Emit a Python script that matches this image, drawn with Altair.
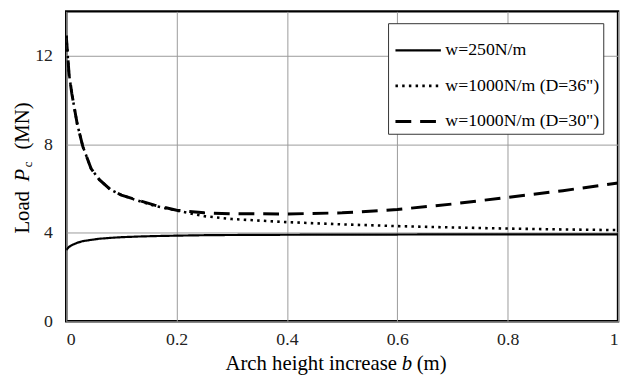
import altair as alt
import pandas as pd

# ---- data ----
b_vals = [0, 0.005, 0.01, 0.02, 0.03, 0.045, 0.06, 0.08, 0.1, 0.13, 0.16, 0.2,
          0.25, 0.3, 0.4, 0.5, 0.6, 0.7, 0.8, 0.9, 1.0]
w250 = [3.22, 3.36, 3.44, 3.55, 3.62, 3.68, 3.73, 3.77, 3.8, 3.83, 3.85, 3.87,
        3.89, 3.9, 3.91, 3.92, 3.92, 3.93, 3.93, 3.93, 3.93]
w1000_d36 = [12.9, 11.2, 10.3, 8.9, 7.9, 6.9, 6.4, 5.95, 5.7, 5.45, 5.22, 5.0,
             4.75, 4.62, 4.48, 4.38, 4.3, 4.24, 4.19, 4.15, 4.12]
w1000_d30 = [12.9, 11.2, 10.3, 8.9, 7.9, 6.9, 6.4, 5.95, 5.7, 5.47, 5.25, 5.02,
             4.9, 4.86, 4.85, 4.9, 5.05, 5.3, 5.6, 5.9, 6.25]
series = ["w=250N/m", "w=1000N/m (D=36\")", "w=1000N/m (D=30\")"]
x_ticks = [0, 0.2, 0.4, 0.6, 0.8, 1]
y_ticks = [0, 4, 8, 12]

rows = []
for name, vals in zip(series, [w250, w1000_d36, w1000_d30]):
    for b, v in zip(b_vals, vals):
        rows.append({"b": b, "P": v, "series": name})
df = pd.DataFrame(rows)

FONT = "Liberation Serif"

lines = alt.Chart(df).mark_line(color="black", clip=True).encode(
    x=alt.X("b:Q", scale=alt.Scale(domain=[0, 1], nice=False),
            axis=alt.Axis(values=x_ticks, title=None, format="~g")),
    y=alt.Y("P:Q", scale=alt.Scale(domain=[0, 14], nice=False),
            axis=alt.Axis(values=y_ticks, title=None)),
    strokeDash=alt.StrokeDash(
        "series:N",
        scale=alt.Scale(domain=series, range=[[1, 0], [2.5, 4.3], [16, 9]]),
        legend=alt.Legend(
            title=None, orient="none", legendX=326, legendY=12,
            direction="vertical",
            symbolType="stroke", symbolSize=2116, symbolStrokeColor="black",
            symbolOffset=3,
            labelFont=FONT, labelFontSize=18, labelColor="black",
            labelOffset=3, rowPadding=2,
            strokeColor="#333333", fillColor="white", padding=3,
            cornerRadius=0,
        ),
    ),
    strokeWidth=alt.StrokeWidth(
        "series:N",
        scale=alt.Scale(domain=series, range=[2.2, 3.0, 3.8]),
        legend=None,
    ),
    order=alt.Order("b:Q"),
)

one = pd.DataFrame({"a": [0]})

def txt(text, x, y, angle=0, align="center", size=21, style="normal"):
    return alt.Chart(one).mark_text(
        text=text, font=FONT, fontSize=size, fontStyle=style, angle=angle,
        align=align, baseline="middle", color="black",
    ).encode(x=alt.value(x), y=alt.value(y))

titles = [
    txt("Arch height increase", 335, 357, align="right"),
    txt("b", 345, 357, style="italic"),
    txt("(m)", 355, 357, align="left"),
    txt("Load", -44, 182, angle=270, align="right"),
    txt("P", -44, 166, angle=270, style="italic"),
    txt("c", -39, 155, angle=270, size=13),
    txt("(MN)", -44, 140, angle=270, align="left"),
]

chart = alt.layer(lines, *titles).properties(
    width=559, height=314,
    autosize=alt.AutoSizeParams(type="none"),
    padding={"left": 59, "top": 1, "right": 5, "bottom": 55},
).configure_view(
    stroke="black", strokeWidth=2.5
).configure_axis(
    grid=True, gridColor="#9a9a9a", gridWidth=1, domain=False, ticks=False,
    labelFont=FONT, labelFontSize=18, labelColor="#222222",
).configure_axisX(labelPadding=9).configure_axisY(labelPadding=14)

chart.save("out.html", embed_options={"renderer": "svg", "actions": False})
